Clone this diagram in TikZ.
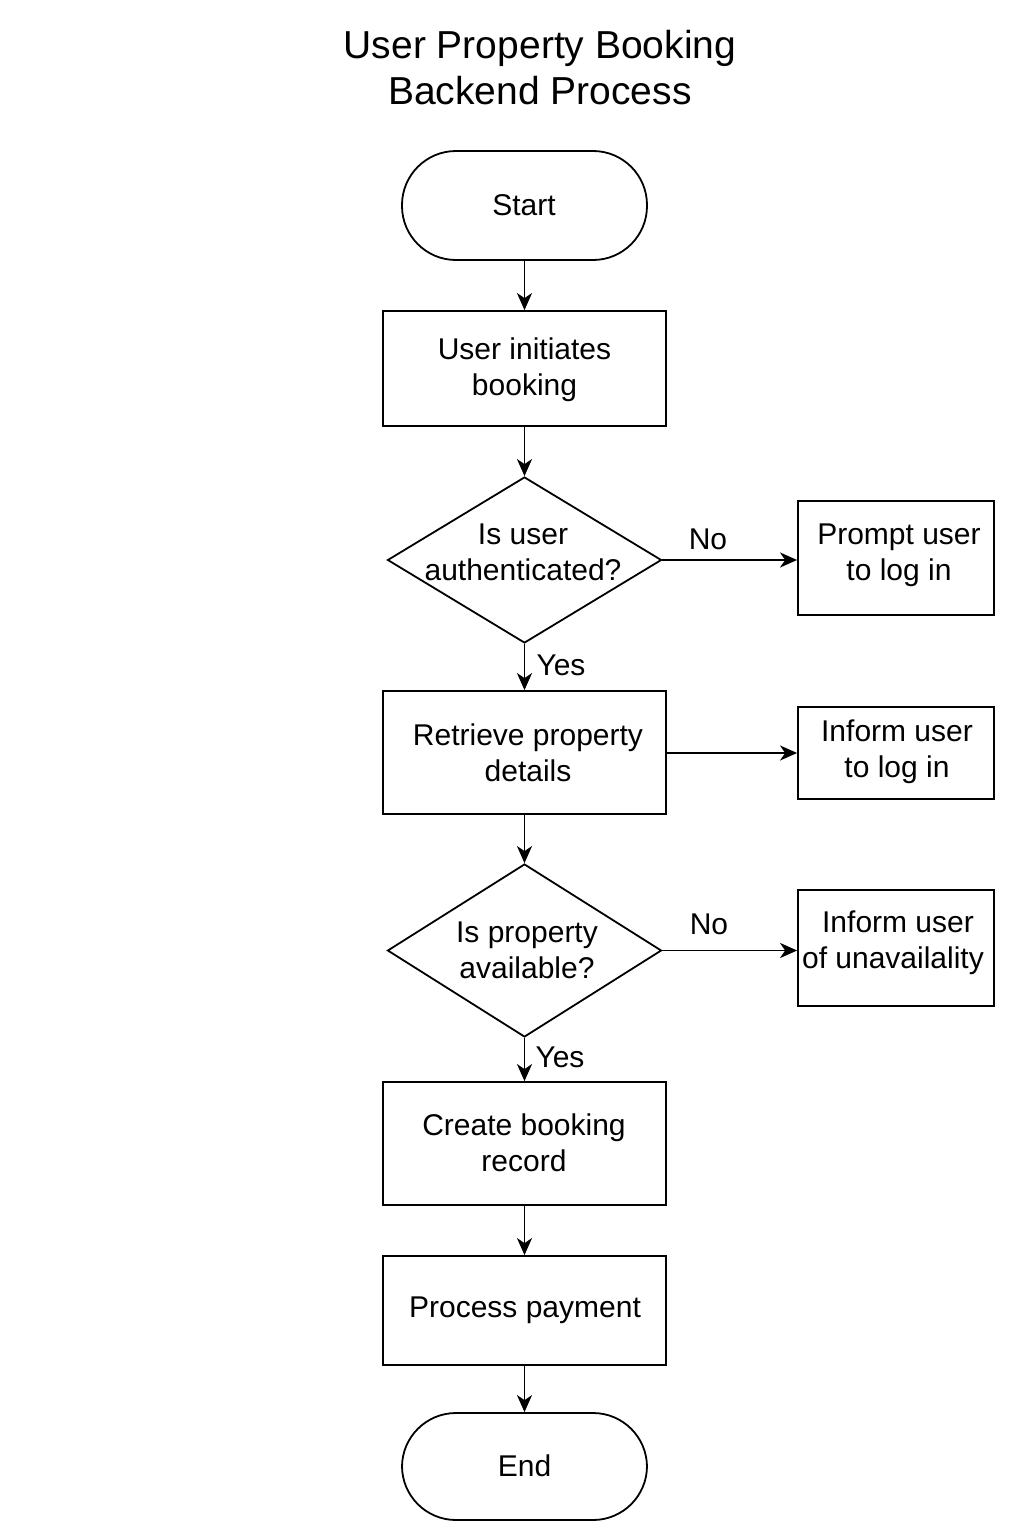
\documentclass[tikz,border=0pt]{standalone}
\usepackage{fontspec}
\setmainfont{Liberation Sans}
\usetikzlibrary{arrows.meta,shapes.geometric}
\begin{document}
\begin{tikzpicture}[x=1pt,y=-1pt,
  every node/.style={font=\fontsize{30}{36}\selectfont},
  box/.style={draw,line width=1.8pt,rectangle,inner sep=0pt,minimum width=283pt},
  sidebox/.style={draw,line width=1.8pt,rectangle,inner sep=0pt,minimum width=196pt},
  term/.style={draw,line width=1.8pt,rectangle,rounded corners=54pt,inner sep=0pt,minimum width=245pt,minimum height=109pt},
  dia/.style={draw,line width=1.8pt,diamond,inner sep=0pt,aspect=1.65,minimum width=274pt,minimum height=166pt},
  txt/.style={align=center,inner sep=0pt},
  lbl/.style={inner sep=0pt},
  arr/.style={line width=1.8pt,-{Stealth[length=17pt,width=15pt,inset=5pt]}}
]
\useasboundingbox (0,0) rectangle (1024,1536);
\node[txt,font=\fontsize{39}{46}\selectfont] (title) at (540,68) {User Property Booking\\Backend Process};

\node[term] (start) at (524.5,205.5) {};
\node[txt] (startt) at (524,205) {Start};

\node[box,minimum height=115pt] (b1) at (524.5,368.5) {};
\node[txt] (b1t) at (524.5,370) {User initiates\\booking};

\node[dia] (d1) at (524.5,560) {};
\node[txt] (d1t) at (523,552) {Is user\\authenticated?};

\node[sidebox,minimum height=114pt] (s1) at (896,558) {};
\node[txt] (s1t) at (899,555) {Prompt user\\to log in};

\node[box,minimum height=123pt] (b2) at (524.5,752.5) {};
\node[txt] (b2t) at (528,753) {Retrieve property\\details};

\node[sidebox,minimum height=92pt] (s2) at (896,753) {};
\node[txt] (s2t) at (897,751.5) {Inform user\\to log in};

\node[dia,minimum height=173pt,aspect=1.58] (d2) at (524.5,950.5) {};
\node[txt] (d2t) at (527,950.5) {Is property\\available?};

\node[sidebox,minimum height=116pt] (s3) at (896,948) {};
\node[txt] (s3t) at (893,942.5) {\hspace*{10pt}Inform user\\of unavailality};

\node[box,minimum height=123pt] (b3) at (524.5,1143.5) {};
\node[txt] (b3t) at (524,1143) {Create booking\\record};

\node[box,minimum height=109pt] (b4) at (524.5,1310.5) {};
\node[txt] (b4t) at (525,1310) {Process payment};

\node[term,minimum height=107pt] (end) at (524.5,1466.5) {};
\node[txt] (endt) at (524.5,1466) {End};

\node[lbl] (no1) at (708,539) {No};
\node[lbl] (yes1) at (561,665) {Yes};
\node[lbl] (no2) at (709,924) {No};
\node[lbl] (yes2) at (560,1057) {Yes};

\draw[arr] (start) -- (b1);
\draw[arr] (b1) -- (d1);
\draw[arr] (d1) -- (b2);
\draw[arr] (d1.east) -- (d1.east -| s1.west);
\draw[arr] (b2.east |- s2.west) -- (s2.west);
\draw[arr] (b2) -- (d2);
\draw[arr] (d2.east) -- (d2.east -| s3.west);
\draw[arr] (d2) -- (b3);
\draw[arr] (b3) -- (b4);
\draw[arr] (b4) -- (end);
\end{tikzpicture}
\end{document}
